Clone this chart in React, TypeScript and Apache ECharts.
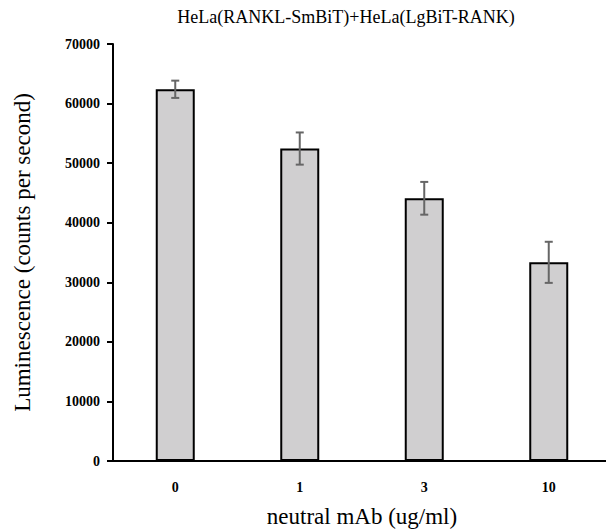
import React, { useEffect, useRef } from "react";
import * as echarts from "echarts";

const categories = ["0", "1", "3", "10"];
const means = [62400, 52450, 44100, 33350];
const errors = [1450, 2700, 2750, 3450];
const yTicks = [0, 10000, 20000, 30000, 40000, 50000, 60000, 70000];

const serif = "Liberation Serif";

export default function App() {
  const ref = useRef<HTMLDivElement>(null);
  useEffect(() => {
    if (!ref.current) return;
    const chart = echarts.init(ref.current, null, { renderer: "svg" });
    const errData = means.map((m, i) => [i, m - errors[i], m + errors[i]]);
    chart.setOption({
      animation: false,
      backgroundColor: "#ffffff",
      title: {
        text: "HeLa(RANKL-SmBiT)+HeLa(LgBiT-RANK)",
        left: 341,
        top: 3,
        textAlign: "center",
        textStyle: { fontFamily: serif, fontSize: 18, fontWeight: "normal", color: "#000" },
      },
      grid: {
        left: 113,
        right: -5,
        top: 44,
        bottom: 71,
        containLabel: false,
        outerBoundsMode: "none",
      },
      xAxis: {
        type: "category",
        data: categories,
        name: "neutral mAb (ug/ml)",
        nameLocation: "middle",
        nameGap: 44,
        nameTextStyle: { fontFamily: serif, fontSize: 23, color: "#000" },
        axisLine: { lineStyle: { color: "#000", width: 2 } },
        axisTick: { show: false },
        axisLabel: { fontFamily: serif, fontSize: 14, fontWeight: "bold", color: "#000", margin: 19 },
      },
      yAxis: {
        type: "value",
        min: yTicks[0],
        max: yTicks[yTicks.length - 1],
        interval: 10000,
        name: "Luminescence (counts per second)",
        nameLocation: "middle",
        nameGap: 79,
        nameTextStyle: { fontFamily: serif, fontSize: 23, color: "#000" },
        axisLine: { show: true, lineStyle: { color: "#000", width: 2 } },
        axisTick: { show: true, length: 6, lineStyle: { color: "#000", width: 2 } },
        axisLabel: {
          fontFamily: serif,
          fontSize: 14,
          fontWeight: "bold",
          color: "#000",
          margin: 13,
          formatter: (v: number) => String(v),
        },
        splitLine: { show: false },
      },
      series: [
        {
          type: "bar",
          data: means,
          barWidth: 39,
          itemStyle: { color: "#d0cfd0", borderColor: "#000", borderWidth: 2 },
        },
        {
          type: "custom",
          data: errData,
          z: 10,
          renderItem: (params: any, api: any) => {
            const x = api.value(0);
            const lo = api.coord([x, api.value(1)]);
            const hi = api.coord([x, api.value(2)]);
            const w = 4;
            const style = { stroke: "#666666", lineWidth: 2 };
            return {
              type: "group",
              children: [
                { type: "line", shape: { x1: hi[0], y1: hi[1], x2: lo[0], y2: lo[1] }, style },
                { type: "line", shape: { x1: hi[0] - w, y1: hi[1], x2: hi[0] + w, y2: hi[1] }, style },
                { type: "line", shape: { x1: lo[0] - w, y1: lo[1], x2: lo[0] + w, y2: lo[1] }, style },
              ],
            };
          },
        },
      ],
    });
    return () => chart.dispose();
  }, []);
  return (
    <div
      ref={ref}
      style={{ position: "fixed", left: 0, top: 0, width: 606, height: 532 }}
    />
  );
}
